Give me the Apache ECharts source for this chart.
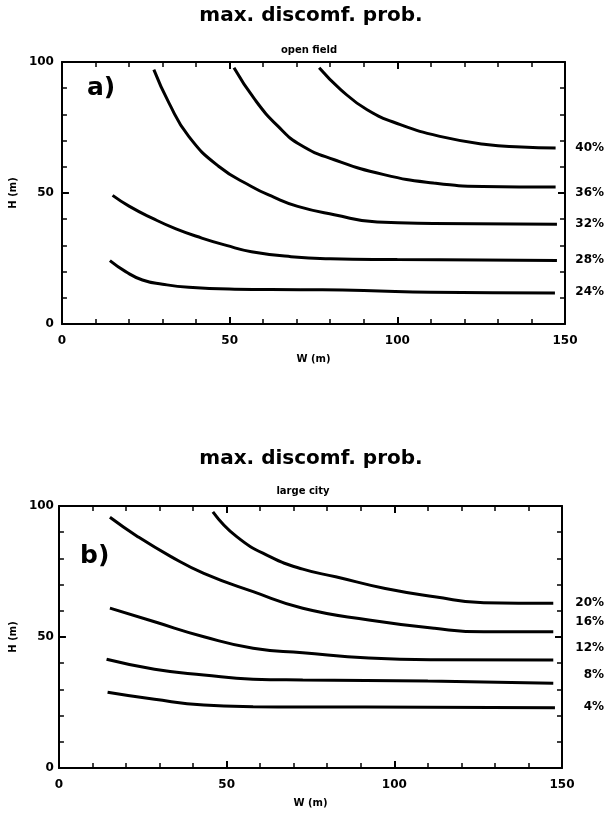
<!DOCTYPE html>
<html><head><meta charset="utf-8">
<script src="https://cdn.jsdelivr.net/npm/echarts@6/dist/echarts.min.js"></script>
<style>html,body{margin:0;padding:0;background:#fff}#c{width:605px;height:814px}</style>
</head><body><div id="c"></div>
<script>
// ---- data ----
const mainTitle = 'max. discomf. prob.';
const panelTitles = ['open field', 'large city'];
const panelTags = ['a)', 'b)'];
const xTickValues = [0, 50, 100, 150];
const yTickValues = [0, 50, 100];

// open field (W, H) curves
const open24 = [[14.3,24.2],[19,20.0],[24,16.8],[30,15.2],[37.8,14.0],[51.5,13.3],[71,13.1],[90,12.8],[110,12.1],[147,11.8]];
const open28 = [[15.1,49.1],[20,45.0],[26.9,40.4],[34,36.3],[41.7,32.8],[49,30.0],[56.5,27.6],[68.3,25.7],[80,24.9],[100,24.6],[125,24.4],[147.6,24.2]];
const open32 = [[27.4,97.1],[31.9,84.4],[37.8,71.6],[46.7,60.2],[56.5,52.5],[63,48.5],[70.3,44.9],[81.2,41.7],[94,38.9],[110.7,38.4],[147.6,38.1]];
const open36 = [[51.3,97.8],[57.5,85.7],[64.4,75.5],[71.3,68.2],[81.2,62.7],[96,57.0],[110.7,53.8],[125.5,52.5],[147.2,52.3]];
const open40 = [[76.7,97.8],[83.1,89.5],[91,81.8],[100.9,76.1],[112.7,71.6],[126.5,68.5],[137,67.6],[147.2,67.2]];
const openLabels = ['40%','36%','32%','28%','24%'];
const openLabelH = [67.3, 50.1, 38.2, 24.5, 12.2];

// large city (W, H) curves
const city4  = [[14.5,28.9],[28.5,26.2],[43.2,24.0],[57.9,23.4],[72.7,23.3],[110,23.2],[147.9,23.0]];
const city8  = [[14.2,41.5],[28.5,37.7],[43.2,35.5],[57.9,33.9],[72.7,33.6],[110,33.2],[147.4,32.3]];
const city12 = [[15.2,61.0],[28.5,55.8],[43.2,50.1],[57.9,45.7],[72.7,44.0],[92.4,42.0],[112,41.3],[147.4,41.2]];
const city16 = [[15.2,95.7],[23.5,88.3],[33.4,80.7],[43.2,74.3],[57.9,67.3],[72.7,61.0],[92.4,56.5],[112,53.3],[126.7,52.0],[147.4,52.0]];
const city20 = [[45.9,97.8],[53,88.3],[62.9,80.7],[72.7,75.9],[82.5,73.0],[97.3,68.5],[112,65.4],[126.7,63.1],[147.4,62.9]];
const cityLabels = ['20%','16%','12%','8%','4%'];
const cityLabelH = [63.0, 55.7, 45.8, 35.5, 23.3];

// ---- chart ----
const FONT = 'DejaVu Sans';
const chart = echarts.init(document.getElementById('c'), null, {renderer: 'canvas'});

function xAx(grid, pos, show) {
  return {
    type: 'value', gridIndex: grid, position: pos, min: xTickValues[0], max: xTickValues[xTickValues.length-1],
    interval: xTickValues[1]-xTickValues[0],
    name: show ? 'W (m)' : '', nameLocation: 'middle', nameGap: 30,
    nameTextStyle: {fontFamily: FONT, fontWeight: 'bold', fontSize: 10, color: '#000'},
    axisLine: {show: true, onZero: false, lineStyle: {color: '#000', width: 2}},
    axisTick: {show: true, inside: true, length: 7, lineStyle: {color: '#000', width: 2}},
    minorTick: {show: true, splitNumber: 5, length: 5, lineStyle: {color: '#000', width: 1.5}},
    axisLabel: {show: show, margin: 11, fontFamily: FONT, fontWeight: 'bold', fontSize: 12, color: '#000'},
    splitLine: {show: false}, minorSplitLine: {show: false}
  };
}
function yAx(grid, pos, show, margin) {
  return {
    type: 'value', gridIndex: grid, position: pos, min: yTickValues[0], max: yTickValues[yTickValues.length-1],
    interval: yTickValues[1]-yTickValues[0],
    name: show ? 'H (m)' : '', nameLocation: 'middle', nameGap: 38,
    nameTextStyle: {fontFamily: FONT, fontWeight: 'bold', fontSize: 10, color: '#000'},
    axisLine: {show: true, onZero: false, lineStyle: {color: '#000', width: 2}},
    axisTick: {show: true, inside: true, length: 7, lineStyle: {color: '#000', width: 2}},
    minorTick: {show: true, splitNumber: 5, length: 5, lineStyle: {color: '#000', width: 1.5}},
    axisLabel: {show: show, margin: margin, fontFamily: FONT, fontWeight: 'bold', fontSize: 12, color: '#000'},
    splitLine: {show: false}, minorSplitLine: {show: false}
  };
}
function curve(data, xi, yi) {
  return {type: 'line', data: data, xAxisIndex: xi, yAxisIndex: yi, smooth: 0.5,
    showSymbol: false, silent: true, lineStyle: {color: '#000', width: 3}};
}
function labels(names, hs, xi, yi, off) {
  return {type: 'line', xAxisIndex: xi, yAxisIndex: yi, data: [], silent: true,
    markPoint: {symbol: 'circle', symbolSize: 0, silent: true, animation: false,
      itemStyle: {color: '#000', opacity: 1},
      data: names.map((n, i) => ({coord: [xTickValues[xTickValues.length-1], hs[i]], value: n})),
      label: {show: true, position: 'inside', align: 'right', verticalAlign: 'middle', offset: [off, 0],
        formatter: p => p.value, fontFamily: FONT, fontWeight: 'bold', fontSize: 12, color: '#000',
        textBorderWidth: 0}}};
}

const titleStyle = {fontFamily: FONT, fontWeight: 'bold', fontSize: 20, color: '#000'};
const subStyle = {fontFamily: FONT, fontWeight: 'bold', fontSize: 10, color: '#000'};
const tagStyle = {fontFamily: FONT, fontWeight: 'bold', fontSize: 25, color: '#000'};

chart.setOption({
  animation: false,
  backgroundColor: '#fff',
  title: [
    {text: mainTitle, left: 311, top: 6, textAlign: 'center', textStyle: titleStyle, padding: 0},
    {text: panelTitles[0], left: 309, top: 45, textAlign: 'center', textStyle: subStyle, padding: 0},
    {text: panelTags[0], left: 87, top: 76, textStyle: tagStyle, padding: 0},
    {text: mainTitle, left: 311, top: 449, textAlign: 'center', textStyle: titleStyle, padding: 0},
    {text: panelTitles[1], left: 303, top: 486, textAlign: 'center', textStyle: subStyle, padding: 0},
    {text: panelTags[1], left: 80, top: 544, textStyle: tagStyle, padding: 0}
  ],
  grid: [
    {left: 59, right: 40, top: 62, bottom: 490, containLabel: false},
    {left: 54, right: 43, top: 506, bottom: 46, containLabel: false}
  ],
  xAxis: [xAx(0, 'bottom', true), xAx(0, 'top', false), xAx(1, 'bottom', true), xAx(1, 'top', false)],
  yAxis: [yAx(0, 'left', true, 8), yAx(0, 'right', false, 8), yAx(1, 'left', true, 5), yAx(1, 'right', false, 5)],
  series: [
    curve(open24, 0, 0), curve(open28, 0, 0), curve(open32, 0, 0), curve(open36, 0, 0), curve(open40, 0, 0),
    labels(openLabels, openLabelH, 0, 0, 39),
    curve(city4, 2, 2), curve(city8, 2, 2), curve(city12, 2, 2), curve(city16, 2, 2), curve(city20, 2, 2),
    labels(cityLabels, cityLabelH, 2, 2, 42)
  ]
});
</script></body></html>
